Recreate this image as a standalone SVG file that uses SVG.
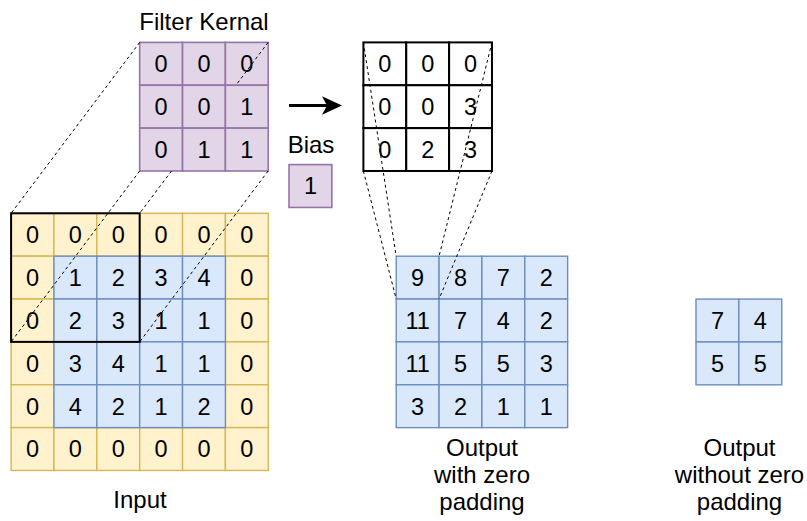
<svg xmlns="http://www.w3.org/2000/svg" width="807" height="521" viewBox="0 0 807 521">
  <style>
    .yel { fill: #fff2cc; stroke: #d6b656; stroke-width: 1.4; }
    .blu { fill: #dae8fc; stroke: #6c8ebf; stroke-width: 1.4; }
    .pur { fill: #e1d5e7; stroke: #9673a6; stroke-width: 1.6; }
    .wht { fill: #ffffff; stroke: #000000; stroke-width: 2; }
    .frame { fill: none; stroke: #000000; stroke-width: 2; }
    text { font-family: "Liberation Sans", Arial, Helvetica, sans-serif; font-size: 23.5px; fill: #000000; text-anchor: middle; }
    .lbl { font-size: 24px; }
    .dash { fill: none; stroke: #000000; stroke-width: 1; stroke-dasharray: 3 3; }
    .arrow { fill: none; stroke: #000000; stroke-width: 3; }
  </style>
  <defs>
    <marker id="head" markerUnits="userSpaceOnUse" markerWidth="20" markerHeight="20" viewBox="0 0 20 20" refX="8" refY="10" orient="auto">
      <path d="M0,0.8 L20,10 L0,19.2 L5,10 Z" fill="#000000"/>
    </marker>
  </defs>

  <!-- Input: 6x6 zero-padded matrix -->
  <g id="input" transform="translate(11.1,213.3)">
    <g class="yel">
      <rect x="0" y="0" width="42.86" height="42.86"/><rect x="42.86" y="0" width="42.86" height="42.86"/><rect x="85.72" y="0" width="42.86" height="42.86"/><rect x="128.58" y="0" width="42.86" height="42.86"/><rect x="171.44" y="0" width="42.86" height="42.86"/><rect x="214.3" y="0" width="42.86" height="42.86"/>
      <rect x="0" y="42.86" width="42.86" height="42.86"/><rect x="214.3" y="42.86" width="42.86" height="42.86"/>
      <rect x="0" y="85.72" width="42.86" height="42.86"/><rect x="214.3" y="85.72" width="42.86" height="42.86"/>
      <rect x="0" y="128.58" width="42.86" height="42.86"/><rect x="214.3" y="128.58" width="42.86" height="42.86"/>
      <rect x="0" y="171.44" width="42.86" height="42.86"/><rect x="214.3" y="171.44" width="42.86" height="42.86"/>
      <rect x="0" y="214.3" width="42.86" height="42.86"/><rect x="42.86" y="214.3" width="42.86" height="42.86"/><rect x="85.72" y="214.3" width="42.86" height="42.86"/><rect x="128.58" y="214.3" width="42.86" height="42.86"/><rect x="171.44" y="214.3" width="42.86" height="42.86"/><rect x="214.3" y="214.3" width="42.86" height="42.86"/>
    </g>
    <g class="blu">
      <rect x="42.86" y="42.86" width="42.86" height="42.86"/><rect x="85.72" y="42.86" width="42.86" height="42.86"/><rect x="128.58" y="42.86" width="42.86" height="42.86"/><rect x="171.44" y="42.86" width="42.86" height="42.86"/>
      <rect x="42.86" y="85.72" width="42.86" height="42.86"/><rect x="85.72" y="85.72" width="42.86" height="42.86"/><rect x="128.58" y="85.72" width="42.86" height="42.86"/><rect x="171.44" y="85.72" width="42.86" height="42.86"/>
      <rect x="42.86" y="128.58" width="42.86" height="42.86"/><rect x="85.72" y="128.58" width="42.86" height="42.86"/><rect x="128.58" y="128.58" width="42.86" height="42.86"/><rect x="171.44" y="128.58" width="42.86" height="42.86"/>
      <rect x="42.86" y="171.44" width="42.86" height="42.86"/><rect x="85.72" y="171.44" width="42.86" height="42.86"/><rect x="128.58" y="171.44" width="42.86" height="42.86"/><rect x="171.44" y="171.44" width="42.86" height="42.86"/>
    </g>
    <!-- receptive field of the kernel -->
    <rect class="frame" x="0" y="0" width="128.58" height="128.58"/>
    <text x="21.43" y="29.8">0</text><text x="64.29" y="29.8">0</text><text x="107.15" y="29.8">0</text><text x="150.01" y="29.8">0</text><text x="192.87" y="29.8">0</text><text x="235.73" y="29.8">0</text>
    <text x="21.43" y="72.7">0</text><text x="64.29" y="72.7">1</text><text x="107.15" y="72.7">2</text><text x="150.01" y="72.7">3</text><text x="192.87" y="72.7">4</text><text x="235.73" y="72.7">0</text>
    <text x="21.43" y="115.6">0</text><text x="64.29" y="115.6">2</text><text x="107.15" y="115.6">3</text><text x="150.01" y="115.6">1</text><text x="192.87" y="115.6">1</text><text x="235.73" y="115.6">0</text>
    <text x="21.43" y="158.4">0</text><text x="64.29" y="158.4">3</text><text x="107.15" y="158.4">4</text><text x="150.01" y="158.4">1</text><text x="192.87" y="158.4">1</text><text x="235.73" y="158.4">0</text>
    <text x="21.43" y="201.3">0</text><text x="64.29" y="201.3">4</text><text x="107.15" y="201.3">2</text><text x="150.01" y="201.3">1</text><text x="192.87" y="201.3">2</text><text x="235.73" y="201.3">0</text>
    <text x="21.43" y="244.2">0</text><text x="64.29" y="244.2">0</text><text x="107.15" y="244.2">0</text><text x="150.01" y="244.2">0</text><text x="192.87" y="244.2">0</text><text x="235.73" y="244.2">0</text>
  </g>
  <text class="lbl" x="140" y="508">Input</text>

  <!-- Filter kernel 3x3 -->
  <g id="kernel" transform="translate(139.68,42.4)">
    <text class="lbl" x="64.29" y="-12.4">Filter Kernal</text>
    <g class="pur">
      <rect x="0" y="0" width="42.86" height="42.86"/><rect x="42.86" y="0" width="42.86" height="42.86"/><rect x="85.72" y="0" width="42.86" height="42.86"/>
      <rect x="0" y="42.86" width="42.86" height="42.86"/><rect x="42.86" y="42.86" width="42.86" height="42.86"/><rect x="85.72" y="42.86" width="42.86" height="42.86"/>
      <rect x="0" y="85.72" width="42.86" height="42.86"/><rect x="42.86" y="85.72" width="42.86" height="42.86"/><rect x="85.72" y="85.72" width="42.86" height="42.86"/>
    </g>
    <text x="21.43" y="29.8">0</text><text x="64.29" y="29.8">0</text><text x="107.15" y="29.8">0</text>
    <text x="21.43" y="72.7">0</text><text x="64.29" y="72.7">0</text><text x="107.15" y="72.7">1</text>
    <text x="21.43" y="115.6">0</text><text x="64.29" y="115.6">1</text><text x="107.15" y="115.6">1</text>
  </g>

  <!-- Bias -->
  <g id="bias">
    <text class="lbl" x="311" y="153">Bias</text>
    <rect class="pur" x="289" y="164.6" width="42.86" height="42.86"/>
    <text x="310.43" y="194.4">1</text>
  </g>

  <!-- Element-wise product of kernel and receptive field -->
  <g id="product" transform="translate(363.4,42.4)">
    <g class="wht">
      <rect x="0" y="0" width="42.86" height="42.86"/><rect x="42.86" y="0" width="42.86" height="42.86"/><rect x="85.72" y="0" width="42.86" height="42.86"/>
      <rect x="0" y="42.86" width="42.86" height="42.86"/><rect x="42.86" y="42.86" width="42.86" height="42.86"/><rect x="85.72" y="42.86" width="42.86" height="42.86"/>
      <rect x="0" y="85.72" width="42.86" height="42.86"/><rect x="42.86" y="85.72" width="42.86" height="42.86"/><rect x="85.72" y="85.72" width="42.86" height="42.86"/>
    </g>
    <text x="21.43" y="29.8">0</text><text x="64.29" y="29.8">0</text><text x="107.15" y="29.8">0</text>
    <text x="21.43" y="72.7">0</text><text x="64.29" y="72.7">0</text><text x="107.15" y="72.7">3</text>
    <text x="21.43" y="115.6">0</text><text x="64.29" y="115.6">2</text><text x="107.15" y="115.6">3</text>
  </g>

  <!-- Output with zero padding 4x4 -->
  <g id="output-padded" transform="translate(396.2,256.2)">
    <g class="blu">
      <rect x="0" y="0" width="42.86" height="42.86"/><rect x="42.86" y="0" width="42.86" height="42.86"/><rect x="85.72" y="0" width="42.86" height="42.86"/><rect x="128.58" y="0" width="42.86" height="42.86"/>
      <rect x="0" y="42.86" width="42.86" height="42.86"/><rect x="42.86" y="42.86" width="42.86" height="42.86"/><rect x="85.72" y="42.86" width="42.86" height="42.86"/><rect x="128.58" y="42.86" width="42.86" height="42.86"/>
      <rect x="0" y="85.72" width="42.86" height="42.86"/><rect x="42.86" y="85.72" width="42.86" height="42.86"/><rect x="85.72" y="85.72" width="42.86" height="42.86"/><rect x="128.58" y="85.72" width="42.86" height="42.86"/>
      <rect x="0" y="128.58" width="42.86" height="42.86"/><rect x="42.86" y="128.58" width="42.86" height="42.86"/><rect x="85.72" y="128.58" width="42.86" height="42.86"/><rect x="128.58" y="128.58" width="42.86" height="42.86"/>
    </g>
    <text x="21.43" y="29.8">9</text><text x="64.29" y="29.8">8</text><text x="107.15" y="29.8">7</text><text x="150.01" y="29.8">2</text>
    <text x="21.43" y="72.7">11</text><text x="64.29" y="72.7">7</text><text x="107.15" y="72.7">4</text><text x="150.01" y="72.7">2</text>
    <text x="21.43" y="115.6">11</text><text x="64.29" y="115.6">5</text><text x="107.15" y="115.6">5</text><text x="150.01" y="115.6">3</text>
    <text x="21.43" y="158.4">3</text><text x="64.29" y="158.4">2</text><text x="107.15" y="158.4">1</text><text x="150.01" y="158.4">1</text>
  </g>
  <text class="lbl" x="482" y="455.5">Output</text>
  <text class="lbl" x="482" y="482.5">with zero</text>
  <text class="lbl" x="482" y="509.5">padding</text>

  <!-- Output without zero padding 2x2 -->
  <g id="output-valid" transform="translate(696,299.1)">
    <g class="blu">
      <rect x="0" y="0" width="42.86" height="42.86"/><rect x="42.86" y="0" width="42.86" height="42.86"/>
      <rect x="0" y="42.86" width="42.86" height="42.86"/><rect x="42.86" y="42.86" width="42.86" height="42.86"/>
    </g>
    <text x="21.43" y="29.8">7</text><text x="64.29" y="29.8">4</text>
    <text x="21.43" y="72.7">5</text><text x="64.29" y="72.7">5</text>
  </g>
  <text class="lbl" x="739.5" y="455.5">Output</text>
  <text class="lbl" x="739.5" y="482.5">without zero</text>
  <text class="lbl" x="739.5" y="509.5">padding</text>

  <!-- Connectors -->
  <g id="connectors">
    <!-- kernel projected onto the input window -->
    <line class="dash" x1="139.68" y1="42.4" x2="11.1" y2="213.3"/>
    <line class="dash" x1="139.68" y1="170.98" x2="11.1" y2="341.88"/>
    <line class="dash" x1="268.1" y1="42.4" x2="235.9" y2="85.26"/>
    <line class="dash" x1="171.5" y1="170.98" x2="139.68" y2="213.3"/>
    <line class="dash" x1="268.1" y1="170.98" x2="139.68" y2="341.88"/>
    <!-- product summed into the first output cell -->
    <line class="dash" x1="363.4" y1="42.4" x2="396.2" y2="256.2"/>
    <line class="dash" x1="363.4" y1="170.98" x2="396.2" y2="299.06"/>
    <line class="dash" x1="491.98" y1="42.4" x2="439.06" y2="256.2"/>
    <line class="dash" x1="491.98" y1="170.98" x2="439.06" y2="299.06"/>
    <!-- kernel applied -->
    <line class="arrow" x1="289" y1="105.5" x2="330" y2="105.5" marker-end="url(#head)"/>
  </g>
</svg>
